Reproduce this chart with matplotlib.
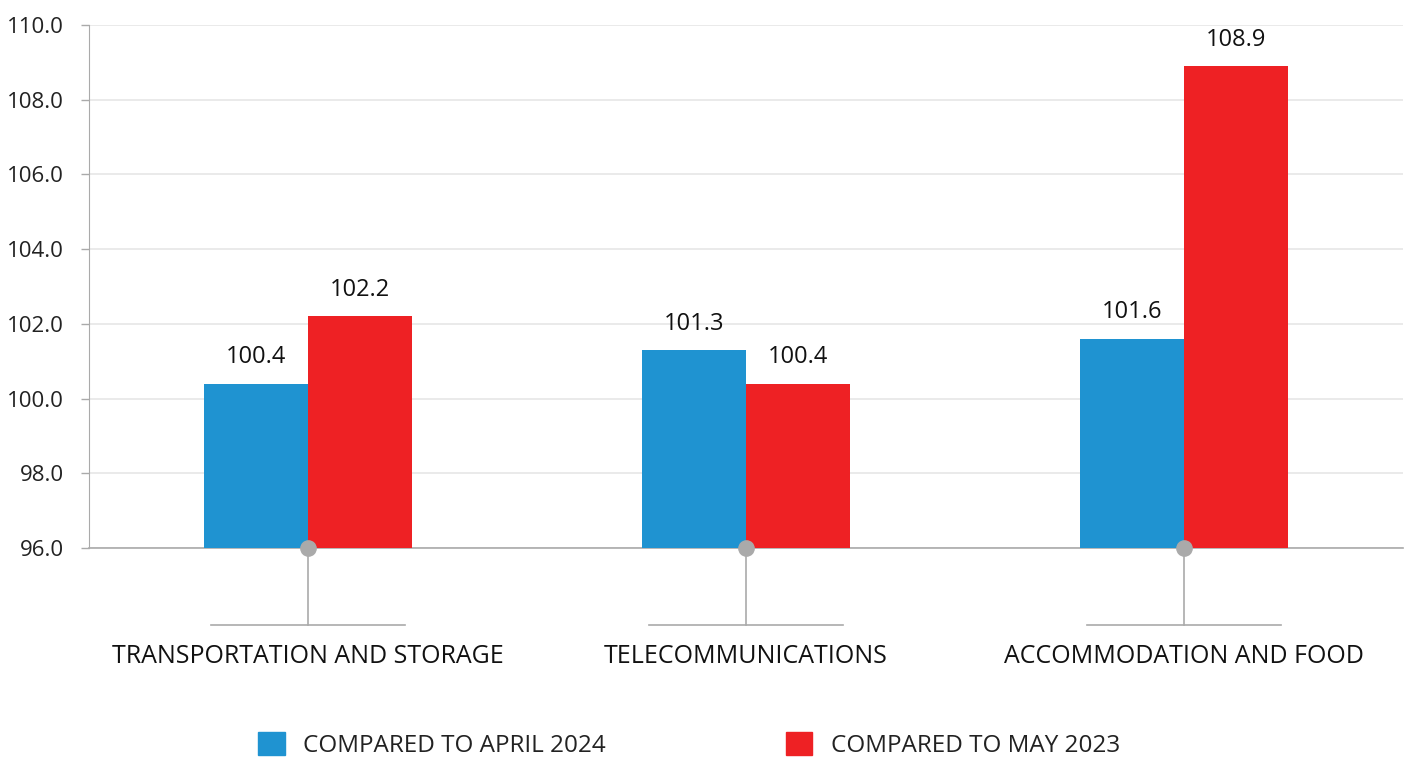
import numpy as np
import matplotlib.pyplot as plt
from matplotlib.patches import Patch
from matplotlib.transforms import blended_transform_factory

plt.rcParams['font.family'] = ['Open Sans', 'DejaVu Sans']

categories = ['TRANSPORTATION AND STORAGE', 'TELECOMMUNICATIONS', 'ACCOMMODATION AND FOOD']
vs_april_2024 = [100.4, 101.3, 101.6]
vs_may_2023 = [102.2, 100.4, 108.9]
series_names = ['COMPARED TO APRIL 2024', 'COMPARED TO MAY 2023']
y_ticks = [96, 98, 100, 102, 104, 106, 108, 110]

blue = '#1f93d1'
red = '#ee2124'
grey = '#aaaaaa'
base = 96.0

fig = plt.figure(figsize=(14.08, 7.58), dpi=100)
ax = fig.add_axes([89 / 1408, 1 - 548 / 758, (1403 - 89) / 1408, (548 - 25) / 758])

x = np.arange(len(categories))
w = 0.237
b1 = ax.bar(x - w / 2, np.array(vs_april_2024) - base, w, bottom=base, color=blue, zorder=3)
b2 = ax.bar(x + w / 2, np.array(vs_may_2023) - base, w, bottom=base, color=red, zorder=3)

for bars, vals in ((b1, vs_april_2024), (b2, vs_may_2023)):
    for rect, v in zip(bars, vals):
        ax.annotate(f'{v:.1f}', (rect.get_x() + rect.get_width() / 2, v),
                    xytext=(0, 19), textcoords='offset points',
                    ha='center', va='center', fontsize=17, color='#111111')

ax.set_xlim(-0.5, len(categories) - 0.5)
ax.set_ylim(96, 110)
ax.set_yticks(y_ticks)
ax.set_yticklabels([f'{t:.1f}' for t in y_ticks])
ax.yaxis.grid(True, color='#e6e6e6', linewidth=1.2, zorder=0)
ax.set_axisbelow(True)
ax.tick_params(axis='y', length=6, width=1, color=grey, pad=12, labelsize=16, labelcolor='#222222')
ax.set_xticks(x)
ax.set_xticklabels(categories)
ax.tick_params(axis='x', length=0, pad=69, labelsize=18, labelcolor='#111111')

for s in ('top', 'right'):
    ax.spines[s].set_visible(False)
ax.spines['left'].set_color(grey)
ax.spines['bottom'].set_color(grey)
ax.spines['bottom'].set_linewidth(1.2)

# connector stems under each category
tr = blended_transform_factory(ax.transData, ax.transAxes)
y_low = -77 / 523
for xi in x:
    ax.plot([xi, xi], [0, y_low], transform=tr, color=grey, lw=1.2, clip_on=False, zorder=4)
    ax.plot([xi - 0.221, xi + 0.221], [y_low, y_low], transform=tr, color=grey, lw=1.2, clip_on=False)
    ax.plot([xi], [0], transform=tr, marker='o', ms=11, color=grey, clip_on=False, zorder=5)

handles = [Patch(color=blue), Patch(color=red)]
fig.legend(handles, series_names, loc='center', bbox_to_anchor=(689 / 1408, 1 - 745 / 758),
           ncol=2, frameon=False, fontsize=17.5, handlelength=1.1, handleheight=1.1,
           columnspacing=7.4, handletextpad=0.75, labelcolor='#222222')

fig.savefig('out.png', dpi=100)
